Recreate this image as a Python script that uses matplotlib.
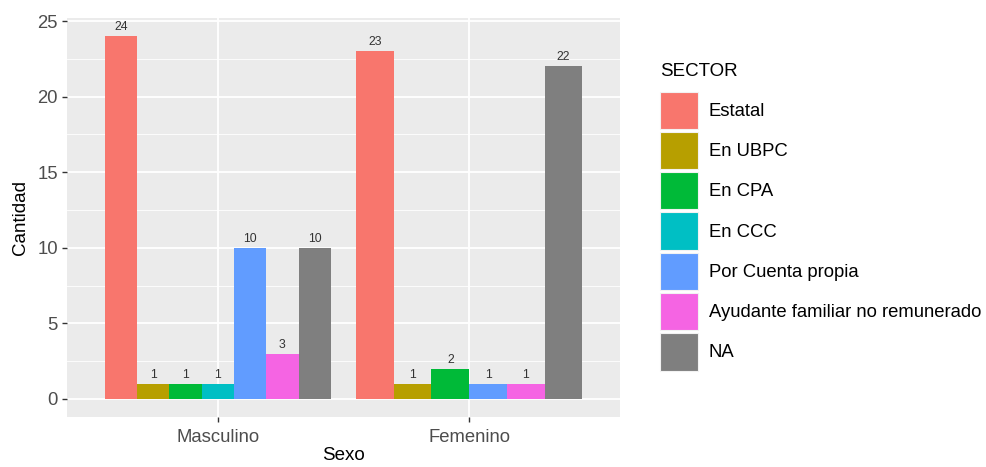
import matplotlib.pyplot as plt
from matplotlib.patches import Rectangle
import numpy as np

plt.rcParams['font.family'] = ['Liberation Sans', 'DejaVu Sans']

# data
sexo = ["Masculino", "Femenino"]
sectores = ["Estatal", "En UBPC", "En CPA", "En CCC", "Por Cuenta propia",
            "Ayudante familiar no remunerado", "NA"]
colores = ["#F8766D", "#B79F00", "#00BA38", "#00BFC4", "#619CFF", "#F564E3", "#7F7F7F"]
# None = category absent for that group (ggplot dodge drops it)
masculino = [24, 1, 1, 1, 10, 3, 10]
femenino = [23, 1, 2, None, 1, 1, 22]
valores = [masculino, femenino]

W, H = 987, 467
fig = plt.figure(figsize=(W / 100, H / 100), dpi=100)
fig.patch.set_facecolor("white")
ax = fig.add_axes([67 / W, 1 - 417 / H, (620 - 67) / W, (417 - 18) / H])
ax.set_facecolor("#EBEBEB")

# ggplot-style dodge: 0.9 total width, split among present bars
for i, vals in enumerate(valores):
    presentes = [(k, v) for k, v in enumerate(vals) if v is not None]
    n = len(presentes)
    w = 0.9 / n
    x0 = (i + 1) - 0.45
    for j, (k, v) in enumerate(presentes):
        xc = x0 + w * (j + 0.5)
        ax.bar(xc, v, width=w, color=colores[k], linewidth=0, zorder=3)
        ax.text(xc, v + 0.2, str(v), ha="center", va="bottom",
                fontsize=8.8, color="#333333", zorder=4)

ax.set_xlim(0.4, 2.6)
ax.set_ylim(-1.2, 25.2)
ax.set_xticks([1, 2])
ax.set_xticklabels(sexo)
ax.set_yticks(np.arange(0, 26, 5))
ax.set_yticks(np.arange(2.5, 25, 5), minor=True)

ax.grid(True, which="major", color="white", linewidth=1.3, zorder=0)
ax.grid(True, which="minor", axis="y", color="white", linewidth=0.6, zorder=0)
ax.set_axisbelow(True)
for s in ax.spines.values():
    s.set_visible(False)
ax.tick_params(axis="both", which="major", length=3.5, width=1.0, color="#333333",
               labelcolor="#4D4D4D", labelsize=13.3, pad=3)
ax.tick_params(axis="x", which="major", pad=5)
ax.tick_params(axis="both", which="minor", length=0)

ax.set_xlabel("Sexo", fontsize=13.5, color="black", labelpad=1)
ax.set_ylabel("Cantidad", fontsize=13.5, color="black", labelpad=6)

# legend drawn like ggplot's guide
def fx(px):
    return px / W

def fy(py):
    return 1 - py / H

fig.text(fx(660), fy(72), "SECTOR", fontsize=13.5, va="center", ha="left")
key_top = 90
key_h = 40.3
for k, (nombre, c) in enumerate(zip(sectores, colores)):
    top = key_top + k * key_h
    fig.patches.append(Rectangle((fx(660), fy(top + key_h - 1.5)), fx(38), (key_h - 3) / H,
                                 transform=fig.transFigure, facecolor=c,
                                 edgecolor="#F2F2F2", linewidth=0.8))
    fig.text(fx(709), fy(top + key_h / 2 + 1), nombre, fontsize=13.3, va="center", ha="left")

fig.savefig("out.png", dpi=100)
